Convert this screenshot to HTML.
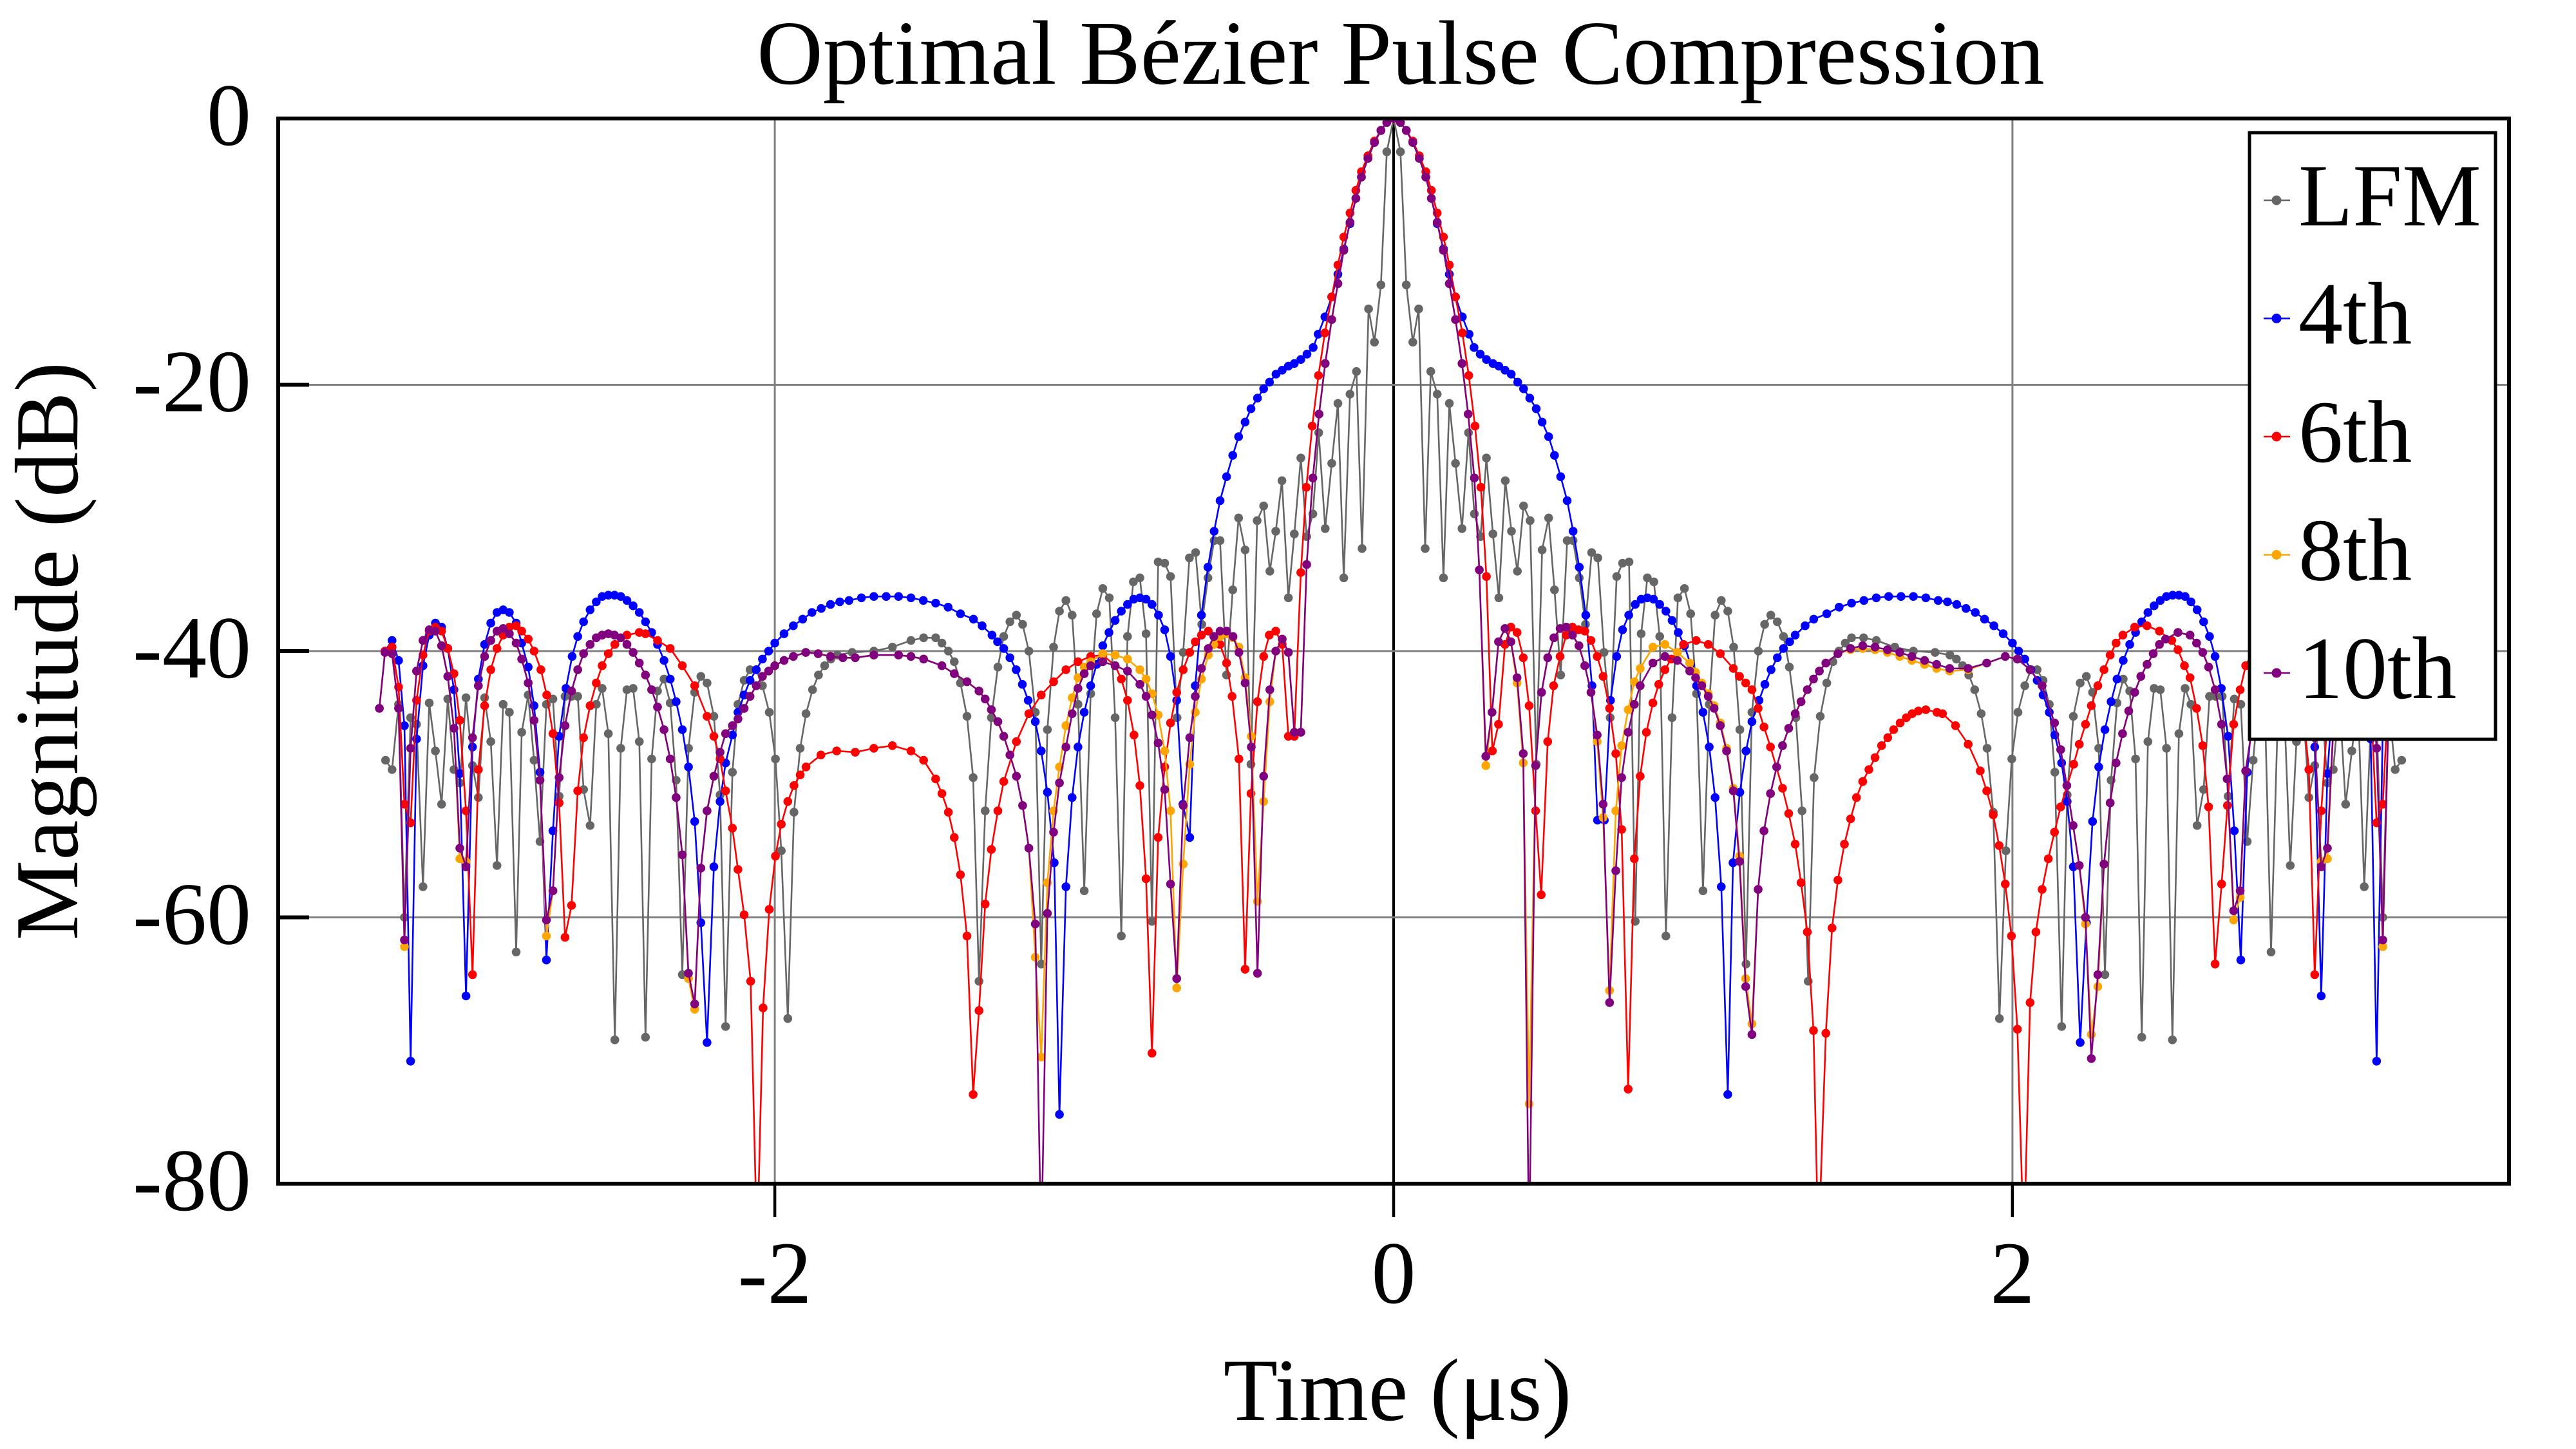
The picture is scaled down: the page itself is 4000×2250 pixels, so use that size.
<!DOCTYPE html>
<html><head><meta charset="utf-8"><title>Optimal Bézier Pulse Compression</title>
<style>html,body{margin:0;padding:0;background:#fff;}svg{display:block;}</style></head>
<body>
<svg id="chart" width="4000" height="2250" viewBox="0 0 4000 2250" xmlns="http://www.w3.org/2000/svg" font-family="'Liberation Serif', 'DejaVu Serif', serif">
<rect x="0" y="0" width="4000" height="2250" fill="#fff"/>
<defs><clipPath id="plotclip"><rect x="432" y="184" width="3464" height="1654"/></clipPath></defs>
<g id="grid"></g>
<g id="series" clip-path="url(#plotclip)"></g>
<g id="axes"></g>
<text x="2175" y="130" font-size="142" text-anchor="middle">Optimal Bézier Pulse Compression</text>
<text x="2170" y="2205" font-size="138" text-anchor="middle">Time (μs)</text>
<text transform="translate(120,1011) rotate(-90)" font-size="140" text-anchor="middle">Magnitude (dB)</text>
<g id="legend"></g>
</svg>
<script>
const xTicks = [-2, 0, 2];
const xTickLabels = ["-2", "0", "2"];
const yTicks = [0, -20, -40, -60, -80];
const yTickLabels = ["0", "-20", "-40", "-60", "-80"];
const seriesNames = ["LFM", "4th", "6th", "8th", "10th"];

const lfmTime = [-3.258,-3.237,-3.216,-3.197,-3.177,-3.158,-3.137,-3.117,-3.097,-3.077,-3.057,-3.037,-3.018,-2.998,-2.977,-2.958,-2.938,-2.918,-2.898,-2.878,-2.858,-2.836,-2.818,-2.797,-2.778,-2.759,-2.738,-2.717,-2.697,-2.678,-2.657,-2.637,-2.618,-2.597,-2.577,-2.558,-2.538,-2.517,-2.498,-2.478,-2.458,-2.438,-2.418,-2.398,-2.379,-2.358,-2.338,-2.319,-2.299,-2.279,-2.259,-2.239,-2.219,-2.197,-2.177,-2.159,-2.137,-2.119,-2.099,-2.08,-2.06,-2.04,-2.018,-1.998,-1.979,-1.958,-1.938,-1.918,-1.899,-1.878,-1.859,-1.839,-1.819,-1.798,-1.75,-1.68,-1.62,-1.56,-1.519,-1.48,-1.46,-1.439,-1.42,-1.4,-1.379,-1.359,-1.34,-1.32,-1.3,-1.279,-1.26,-1.24,-1.219,-1.199,-1.179,-1.158,-1.139,-1.119,-1.099,-1.08,-1.059,-1.039,-1.02,-1.0,-0.979,-0.96,-0.94,-0.919,-0.9,-0.88,-0.86,-0.841,-0.82,-0.8,-0.781,-0.761,-0.74,-0.721,-0.7,-0.68,-0.66,-0.64,-0.62,-0.6,-0.58,-0.561,-0.54,-0.52,-0.501,-0.48,-0.461,-0.441,-0.42,-0.4,-0.381,-0.361,-0.34,-0.321,-0.3,-0.281,-0.261,-0.242,-0.221,-0.2,-0.18,-0.161,-0.141,-0.12,-0.102,-0.081,-0.062,-0.041,-0.022,0,
0.022,0.041,0.062,0.081,0.102,0.12,0.141,0.161,0.18,0.2,0.221,0.242,0.261,0.281,0.3,0.321,0.34,0.361,0.381,0.4,0.42,0.441,0.461,0.48,0.501,0.52,0.54,0.561,0.58,0.6,0.62,0.64,0.66,0.68,0.7,0.721,0.74,0.761,0.781,0.8,0.82,0.841,0.86,0.88,0.9,0.919,0.94,0.96,0.979,1.0,1.02,1.039,1.059,1.08,1.099,1.119,1.139,1.158,1.179,1.199,1.219,1.24,1.26,1.279,1.3,1.32,1.34,1.359,1.379,1.4,1.42,1.439,1.46,1.48,1.519,1.56,1.62,1.68,1.75,1.798,1.819,1.839,1.859,1.878,1.899,1.918,1.938,1.958,1.979,1.998,2.018,2.04,2.06,2.08,2.099,2.119,2.137,2.159,2.177,2.197,2.219,2.239,2.259,2.279,2.299,2.319,2.338,2.358,2.379,2.398,2.418,2.438,2.458,2.478,2.498,2.517,2.538,2.558,2.577,2.597,2.618,2.637,2.657,2.678,2.697,2.717,2.738,2.759,2.778,2.797,2.818,2.836,2.858,2.878,2.898,2.918,2.938,2.958,2.977,2.998,3.018,3.037,3.057,3.077,3.097,3.117,3.137,3.158,3.177,3.197,3.216,3.237,3.258];
const lfmDb = [-48.2,-48.9,-44.0,-60.0,-45.0,-45.5,-57.7,-43.9,-47.5,-51.5,-43.6,-48.9,-49.9,-43.5,-48.6,-51.0,-43.5,-46.8,-56.1,-44.0,-44.6,-62.6,-46.1,-43.3,-48.2,-54.3,-44.0,-43.6,-50.9,-43.4,-43.4,-43.4,-50.4,-53.1,-44.0,-42.8,-46.2,-69.2,-47.3,-42.9,-42.8,-46.8,-69.0,-48.1,-43.0,-42.1,-43.9,-49.7,-64.3,-47.3,-43.1,-41.9,-42.4,-44.9,-50.8,-68.2,-49.1,-44.0,-42.2,-41.4,-41.4,-42.6,-44.6,-48.1,-55.0,-67.6,-52.1,-47.3,-44.7,-42.9,-41.8,-41.1,-40.6,-40.3,-40.1,-40.0,-39.7,-39.2,-39.0,-39.0,-39.4,-40.0,-40.8,-42.4,-44.9,-49.5,-64.8,-52.0,-45.0,-41.2,-38.9,-37.8,-37.3,-38.0,-40.0,-44.6,-63.5,-45.9,-39.7,-37.0,-36.2,-37.3,-44.0,-58.0,-43.2,-37.2,-35.3,-36.0,-45.0,-61.4,-38.9,-34.8,-34.5,-38.7,-60.3,-33.3,-33.4,-34.4,-45.0,-40.1,-33.0,-32.6,-38.0,-34.5,-31.7,-31.7,-41.8,-35.4,-30.0,-32.4,-48.5,-30.2,-29.1,-34.0,-31.0,-27.2,-36.0,-31.2,-25.5,-31.4,-29.7,-23.6,-30.8,-25.9,-21.4,-34.5,-20.7,-19.0,-32.3,-14.3,-16.8,-12.5,-2.5,0,
-2.5,-12.5,-16.8,-14.3,-32.3,-19.0,-20.7,-34.5,-21.4,-25.9,-30.8,-23.6,-29.7,-31.4,-25.5,-31.2,-36.0,-27.2,-31.0,-34.0,-29.1,-30.2,-48.5,-32.4,-30.0,-35.4,-41.8,-31.7,-31.7,-34.5,-38.0,-32.6,-33.0,-40.1,-45.0,-34.4,-33.4,-33.3,-60.3,-38.7,-34.5,-34.8,-38.9,-61.4,-45.0,-36.0,-35.3,-37.2,-43.2,-58.0,-44.0,-37.3,-36.2,-37.0,-39.7,-45.9,-63.5,-44.6,-40.0,-38.0,-37.3,-37.8,-38.9,-41.2,-45.0,-52.0,-64.8,-49.5,-44.9,-42.4,-40.8,-40.0,-39.4,-39.0,-39.0,-39.2,-39.7,-40.0,-40.1,-40.3,-40.6,-41.1,-41.8,-42.9,-44.7,-47.3,-52.1,-67.6,-55.0,-48.1,-44.6,-42.6,-41.4,-41.4,-42.2,-44.0,-49.1,-68.2,-50.8,-44.9,-42.4,-41.9,-43.1,-47.3,-64.3,-49.7,-43.9,-42.1,-43.0,-48.1,-69.0,-46.8,-42.8,-42.9,-47.3,-69.2,-46.2,-42.8,-44.0,-53.1,-50.4,-43.4,-43.4,-43.4,-50.9,-43.6,-44.0,-54.3,-48.2,-43.3,-46.1,-62.6,-44.6,-44.0,-56.1,-46.8,-43.5,-51.0,-48.6,-43.5,-49.9,-48.9,-43.6,-51.5,-47.5,-43.9,-57.7,-45.5,-45.0,-60.0,-44.0,-48.9,-48.2];

const bez4Time = [-3.26,-3.237,-3.216,-3.197,-3.177,-3.158,-3.137,-3.117,-3.097,-3.077,-3.057,-3.037,-3.018,-2.998,-2.977,-2.958,-2.938,-2.918,-2.898,-2.878,-2.858,-2.836,-2.818,-2.797,-2.778,-2.759,-2.738,-2.717,-2.697,-2.675,-2.655,-2.637,-2.618,-2.597,-2.577,-2.558,-2.538,-2.518,-2.498,-2.478,-2.458,-2.438,-2.418,-2.398,-2.379,-2.358,-2.338,-2.319,-2.299,-2.279,-2.259,-2.239,-2.219,-2.197,-2.177,-2.159,-2.137,-2.119,-2.099,-2.08,-2.06,-2.04,-2.02,-2.0,-1.97,-1.94,-1.91,-1.88,-1.85,-1.82,-1.79,-1.76,-1.72,-1.68,-1.64,-1.6,-1.56,-1.52,-1.48,-1.44,-1.4,-1.358,-1.33,-1.298,-1.28,-1.26,-1.24,-1.22,-1.2,-1.181,-1.158,-1.139,-1.119,-1.097,-1.08,-1.059,-1.039,-1.02,-1.0,-0.979,-0.96,-0.94,-0.92,-0.9,-0.88,-0.86,-0.84,-0.82,-0.8,-0.781,-0.76,-0.74,-0.721,-0.701,-0.681,-0.659,-0.641,-0.621,-0.6,-0.58,-0.561,-0.54,-0.52,-0.501,-0.48,-0.461,-0.44,-0.42,-0.401,-0.38,-0.36,-0.34,-0.321,-0.3,-0.28,-0.26,-0.244,-0.222,-0.2,-0.18,-0.161,-0.141,-0.122,-0.104,-0.083,-0.062,-0.041,-0.022,0,
0.022,0.041,0.062,0.083,0.104,0.122,0.141,0.161,0.18,0.2,0.222,0.244,0.26,0.28,0.3,0.321,0.34,0.36,0.38,0.401,0.42,0.44,0.461,0.48,0.501,0.52,0.54,0.561,0.58,0.6,0.621,0.641,0.659,0.681,0.701,0.721,0.74,0.76,0.781,0.8,0.82,0.84,0.86,0.88,0.9,0.92,0.94,0.96,0.979,1.0,1.02,1.039,1.059,1.08,1.097,1.119,1.139,1.158,1.181,1.2,1.22,1.24,1.26,1.28,1.298,1.33,1.358,1.4,1.44,1.48,1.52,1.56,1.6,1.64,1.68,1.72,1.76,1.79,1.82,1.85,1.88,1.91,1.94,1.97,2.0,2.02,2.04,2.06,2.08,2.099,2.119,2.137,2.159,2.177,2.197,2.219,2.239,2.259,2.279,2.299,2.319,2.338,2.358,2.379,2.398,2.418,2.438,2.458,2.478,2.498,2.518,2.538,2.558,2.577,2.597,2.618,2.637,2.655,2.675,2.697,2.717,2.738,2.759,2.778,2.797,2.818,2.836,2.858,2.878,2.898,2.918,2.938,2.958,2.977,2.998,3.018,3.037,3.057,3.077,3.097,3.117,3.137,3.158,3.177,3.197,3.216,3.237,3.26];
const bez4Db = [-40,-39.2,-40.7,-45.6,-70.8,-46.6,-41.1,-38.8,-37.9,-38.2,-39.8,-42.9,-49.2,-65.9,-47.2,-42.1,-39.5,-37.9,-37.1,-36.9,-37.1,-37.9,-39.4,-41.2,-44.1,-49.1,-63.2,-53.5,-46.4,-42.8,-40.4,-38.9,-37.8,-36.9,-36.3,-35.9,-35.8,-35.8,-35.9,-36.2,-36.6,-37.1,-37.8,-38.6,-39.5,-40.7,-42.1,-43.8,-45.9,-48.7,-52.8,-60.4,-69.4,-56.2,-51.3,-48.4,-46.3,-44.6,-43.3,-42.2,-41.4,-40.6,-40.0,-39.4,-38.7,-38.1,-37.6,-37.1,-36.8,-36.5,-36.3,-36.2,-36.0,-35.9,-35.9,-35.9,-36.0,-36.2,-36.4,-36.7,-37.2,-37.6,-38.1,-38.8,-39.3,-39.8,-40.5,-41.4,-42.5,-43.7,-45.3,-47.5,-50.6,-55.9,-74.8,-57.7,-51.0,-47.2,-44.6,-42.6,-41.0,-39.6,-38.6,-37.7,-37.0,-36.5,-36.1,-36.0,-36.1,-36.5,-37.3,-38.4,-40.4,-43.7,-51.5,-54.0,-42.6,-37.3,-33.7,-31.0,-28.7,-26.9,-25.3,-23.9,-22.8,-21.8,-21.0,-20.3,-19.8,-19.2,-18.9,-18.6,-18.4,-18.1,-17.7,-17.2,-16.2,-14.9,-13.4,-11.7,-9.8,-7.9,-6.0,-4.4,-3.0,-1.8,-0.9,-0.3,0,
-0.3,-0.9,-1.8,-3.0,-4.4,-6.0,-7.9,-9.8,-11.7,-13.4,-14.9,-16.2,-17.2,-17.7,-18.1,-18.4,-18.6,-18.9,-19.2,-19.8,-20.3,-21.0,-21.8,-22.8,-23.9,-25.3,-26.9,-28.7,-31.0,-33.7,-37.3,-42.6,-52.7,-52.7,-43.7,-40.4,-38.4,-37.3,-36.5,-36.1,-36.0,-36.1,-36.5,-37.0,-37.7,-38.6,-39.6,-41.0,-42.6,-44.6,-47.2,-51.0,-57.7,-73.3,-55.9,-50.6,-47.5,-45.3,-43.7,-42.5,-41.4,-40.5,-39.8,-39.3,-38.8,-38.1,-37.6,-37.2,-36.7,-36.4,-36.2,-36.0,-35.9,-35.9,-35.9,-36.0,-36.2,-36.3,-36.5,-36.8,-37.1,-37.6,-38.1,-38.7,-39.4,-40.0,-40.6,-41.4,-42.2,-43.3,-44.6,-46.3,-48.4,-51.3,-56.2,-69.4,-60.4,-52.8,-48.7,-45.9,-43.8,-42.1,-40.7,-39.5,-38.6,-37.8,-37.1,-36.6,-36.2,-35.9,-35.8,-35.8,-35.9,-36.3,-36.9,-37.8,-38.9,-40.4,-42.8,-46.4,-53.5,-63.2,-49.1,-44.1,-41.2,-39.4,-37.9,-37.1,-36.9,-37.1,-37.9,-39.5,-42.1,-47.2,-65.9,-49.2,-42.9,-39.8,-38.2,-37.9,-38.8,-41.1,-46.6,-70.8,-45.6,-40.7,-39.2,-40];

const bez6Time = [-3.26,-3.237,-3.216,-3.197,-3.177,-3.158,-3.137,-3.117,-3.097,-3.077,-3.057,-3.037,-3.018,-2.998,-2.977,-2.958,-2.938,-2.918,-2.898,-2.878,-2.858,-2.836,-2.818,-2.797,-2.778,-2.756,-2.737,-2.717,-2.697,-2.678,-2.657,-2.637,-2.618,-2.597,-2.577,-2.558,-2.538,-2.517,-2.478,-2.438,-2.418,-2.379,-2.338,-2.299,-2.259,-2.219,-2.197,-2.177,-2.159,-2.137,-2.119,-2.099,-2.078,-2.057,-2.038,-2.018,-1.998,-1.979,-1.958,-1.938,-1.918,-1.899,-1.851,-1.8,-1.74,-1.68,-1.62,-1.56,-1.519,-1.48,-1.46,-1.439,-1.42,-1.4,-1.379,-1.359,-1.34,-1.32,-1.3,-1.279,-1.26,-1.219,-1.179,-1.139,-1.099,-1.059,-1.02,-0.979,-0.94,-0.9,-0.88,-0.86,-0.839,-0.82,-0.8,-0.781,-0.761,-0.74,-0.721,-0.701,-0.68,-0.659,-0.641,-0.621,-0.599,-0.581,-0.561,-0.54,-0.522,-0.5,-0.48,-0.461,-0.44,-0.42,-0.402,-0.381,-0.36,-0.34,-0.321,-0.3,-0.282,-0.263,-0.243,-0.222,-0.2,-0.18,-0.161,-0.141,-0.122,-0.104,-0.083,-0.062,-0.041,-0.022,0,
0.022,0.041,0.062,0.083,0.104,0.122,0.141,0.161,0.18,0.2,0.222,0.243,0.263,0.282,0.3,0.319,0.339,0.36,0.379,0.399,0.419,0.438,0.459,0.477,0.498,0.517,0.538,0.558,0.578,0.598,0.618,0.638,0.658,0.677,0.698,0.718,0.737,0.758,0.778,0.797,0.817,0.838,0.857,0.877,0.897,0.937,0.978,1.017,1.056,1.098,1.118,1.138,1.158,1.178,1.197,1.218,1.257,1.277,1.298,1.317,1.337,1.357,1.373,1.397,1.417,1.436,1.457,1.477,1.496,1.516,1.536,1.556,1.577,1.597,1.616,1.637,1.657,1.676,1.696,1.72,1.756,1.774,1.816,1.857,1.896,1.917,1.938,1.957,1.977,1.997,2.016,2.037,2.057,2.076,2.096,2.116,2.136,2.156,2.198,2.216,2.236,2.255,2.276,2.296,2.316,2.335,2.357,2.395,2.435,2.475,2.515,2.535,2.556,2.574,2.595,2.615,2.634,2.655,2.676,2.695,2.715,2.736,2.754,2.778,2.797,2.818,2.836,2.858,2.878,2.898,2.918,2.938,2.958,2.977,2.998,3.018,3.037,3.057,3.077,3.097,3.117,3.137,3.158,3.177,3.197,3.216,3.237,3.26];
const bez6Db = [-40.0,-39.7,-42.7,-51.5,-52.9,-43.7,-40.3,-38.5,-38.2,-38.5,-39.8,-41.7,-45.2,-52.0,-64.3,-48.9,-44.1,-41.4,-39.8,-38.8,-38.2,-38.1,-38.5,-39.1,-40.0,-41.4,-43.3,-46.2,-51.4,-61.5,-59.1,-50.5,-46.5,-44.1,-42.4,-41.1,-40.2,-39.5,-38.8,-38.6,-38.7,-39.2,-39.8,-41.1,-42.6,-44.9,-46.4,-48.1,-50.5,-53.3,-56.4,-59.8,-64.8,-85,-66.8,-59.4,-55.4,-53.0,-51.3,-50.1,-49.3,-48.7,-47.8,-47.5,-47.6,-47.3,-47.1,-47.5,-48.2,-49.6,-50.7,-52.1,-54.0,-56.8,-61.4,-73.3,-67.0,-59.0,-54.9,-52.0,-49.8,-46.8,-44.7,-43.3,-42.3,-41.4,-40.8,-40.4,-40.3,-41.1,-42.1,-43.7,-46.3,-50.1,-57.1,-70.2,-54.0,-48.7,-45.4,-43.1,-41.4,-40.1,-39.3,-38.8,-38.5,-38.9,-39.5,-40.9,-43.4,-48.1,-63.9,-50.7,-43.8,-40.4,-38.8,-38.5,-39.5,-46.4,-46.4,-34.1,-27.7,-23.1,-19.3,-16.1,-13.4,-11.0,-8.9,-7.1,-5.4,-4.0,-2.8,-1.7,-0.9,-0.3,0,
-0.3,-0.9,-1.7,-2.8,-4.0,-5.4,-7.1,-8.9,-11.0,-13.4,-16.1,-19.3,-23.1,-27.7,-34.4,-47.5,-45.5,-39.5,-38.2,-38.6,-40.5,-44.1,-52.0,-58.3,-46.8,-42.6,-40.4,-38.8,-38.2,-38.4,-38.5,-39.2,-40.4,-41.9,-44.3,-47.7,-53.4,-72.9,-55.6,-49.4,-46.1,-43.9,-42.5,-41.4,-40.6,-39.5,-39.2,-39.5,-40.2,-41.3,-41.9,-42.4,-42.9,-44.3,-45.7,-47.2,-50.3,-52.2,-54.5,-57.4,-61.1,-68.5,-85,-68.7,-60.8,-57.2,-54.5,-52.6,-51.0,-49.8,-48.9,-48.0,-47.1,-46.5,-45.9,-45.4,-45.0,-44.7,-44.5,-44.4,-44.6,-44.7,-45.6,-47.0,-49.0,-50.5,-52.3,-54.6,-57.5,-61.4,-68.4,-85,-66.4,-61.1,-57.9,-55.6,-53.6,-51.7,-48.5,-47.0,-45.5,-44.1,-42.6,-41.4,-40.3,-39.4,-38.8,-38.2,-38.1,-38.5,-39.2,-39.9,-41.1,-42.0,-44.3,-47.1,-51.7,-63.5,-57.5,-51.6,-45.5,-42.9,-41.1,-40.0,-39.1,-38.5,-38.1,-38.2,-38.8,-39.8,-41.4,-44.1,-48.9,-64.3,-52.0,-45.2,-41.7,-39.8,-38.5,-38.2,-38.5,-40.3,-43.7,-52.9,-51.5,-42.7,-39.7,-40.0];

const bez10Time = [-3.278,-3.26,-3.237,-3.216,-3.197,-3.177,-3.158,-3.137,-3.117,-3.097,-3.077,-3.057,-3.037,-3.018,-2.998,-2.977,-2.958,-2.938,-2.918,-2.898,-2.878,-2.858,-2.836,-2.818,-2.797,-2.778,-2.759,-2.738,-2.717,-2.697,-2.678,-2.657,-2.637,-2.618,-2.597,-2.577,-2.558,-2.538,-2.518,-2.498,-2.478,-2.458,-2.438,-2.418,-2.398,-2.379,-2.358,-2.338,-2.319,-2.299,-2.279,-2.259,-2.239,-2.219,-2.197,-2.177,-2.159,-2.137,-2.119,-2.099,-2.08,-2.06,-2.04,-2.02,-2.0,-1.97,-1.94,-1.9,-1.86,-1.82,-1.78,-1.74,-1.68,-1.6,-1.56,-1.519,-1.46,-1.42,-1.379,-1.34,-1.32,-1.3,-1.279,-1.26,-1.24,-1.219,-1.199,-1.179,-1.158,-1.139,-1.119,-1.099,-1.08,-1.059,-1.039,-1.02,-1.0,-0.979,-0.94,-0.9,-0.86,-0.82,-0.8,-0.781,-0.761,-0.74,-0.721,-0.701,-0.68,-0.659,-0.641,-0.621,-0.599,-0.581,-0.561,-0.54,-0.519,-0.5,-0.48,-0.46,-0.44,-0.42,-0.4,-0.381,-0.36,-0.34,-0.321,-0.3,-0.281,-0.261,-0.241,-0.221,-0.2,-0.18,-0.161,-0.141,-0.122,-0.104,-0.083,-0.062,-0.041,-0.022,0,
0.022,0.041,0.062,0.083,0.104,0.122,0.141,0.161,0.18,0.2,0.221,0.241,0.261,0.277,0.298,0.318,0.339,0.36,0.379,0.399,0.419,0.438,0.459,0.478,0.498,0.518,0.538,0.558,0.578,0.599,0.618,0.638,0.658,0.677,0.698,0.718,0.737,0.758,0.778,0.797,0.838,0.877,0.917,0.957,0.976,0.996,1.017,1.036,1.056,1.076,1.098,1.118,1.138,1.158,1.178,1.197,1.218,1.238,1.257,1.277,1.298,1.317,1.337,1.357,1.376,1.397,1.436,1.477,1.516,1.556,1.596,1.636,1.675,1.716,1.755,1.797,1.857,1.917,1.977,2.016,2.057,2.096,2.136,2.156,2.176,2.196,2.216,2.236,2.255,2.276,2.296,2.316,2.335,2.356,2.376,2.395,2.415,2.435,2.455,2.475,2.495,2.535,2.574,2.595,2.615,2.634,2.655,2.676,2.694,2.715,2.736,2.754,2.778,2.797,2.818,2.836,2.858,2.878,2.898,2.918,2.938,2.958,2.977,2.998,3.018,3.037,3.057,3.077,3.097,3.117,3.137,3.158,3.177,3.197,3.216,3.237,3.26,3.278];
const bez10Db = [-44.3,-40.1,-40.2,-44.3,-61.7,-47.3,-41.5,-39.2,-38.4,-38.5,-39.6,-41.9,-45.8,-54.8,-56.2,-46.5,-42.6,-40.4,-39.2,-38.5,-38.3,-38.7,-39.4,-40.6,-42.4,-45.2,-49.7,-60.2,-58.0,-49.5,-45.6,-43.0,-41.4,-40.2,-39.5,-39.0,-38.8,-38.7,-38.8,-39.0,-39.5,-40.1,-40.9,-41.8,-42.9,-44.2,-45.9,-48.1,-51.0,-55.3,-64.2,-66.5,-56.3,-52.0,-49.4,-47.6,-46.2,-45.6,-45.1,-44.3,-43.4,-42.6,-41.9,-41.5,-41.1,-40.7,-40.4,-40.1,-40.2,-40.4,-40.5,-40.5,-40.3,-40.3,-40.4,-40.6,-41.1,-41.7,-42.3,-43.0,-43.6,-44.4,-45.3,-46.4,-47.8,-49.4,-51.6,-54.8,-60.5,-85,-59.7,-53.6,-49.9,-47.2,-44.7,-42.8,-41.7,-41.1,-40.8,-41.1,-41.5,-42.5,-43.4,-44.8,-46.9,-50.4,-57.5,-64.6,-51.6,-46.5,-43.4,-41.3,-39.8,-38.9,-38.5,-38.5,-38.9,-40.1,-42.4,-47.2,-64.2,-49.4,-42.9,-40.0,-39.1,-40.1,-46.1,-46.1,-33.5,-27.0,-22.2,-18.4,-15.1,-12.4,-9.9,-7.8,-6.0,-4.4,-3.0,-1.8,-0.9,-0.3,0,
-0.3,-0.9,-1.8,-3.0,-4.4,-6.0,-7.8,-9.9,-12.4,-15.1,-18.4,-22.2,-27.0,-33.9,-47.9,-44.6,-39.3,-38.3,-39.3,-42.0,-47.7,-85,-48.6,-43.1,-40.5,-39.0,-38.3,-38.2,-38.8,-39.6,-41.1,-43.1,-46.3,-51.5,-66.4,-56.5,-49.5,-46.1,-44.0,-42.6,-40.9,-40.4,-40.7,-41.5,-42.0,-42.6,-43.4,-44.3,-45.6,-47.5,-50.5,-55.8,-65.2,-68.8,-57.9,-53.5,-50.7,-48.7,-47.1,-45.8,-44.7,-43.8,-42.9,-42.1,-41.5,-40.9,-40.2,-39.8,-39.6,-39.7,-39.9,-40.1,-40.4,-40.7,-41.0,-41.3,-41.3,-40.9,-40.4,-40.6,-41.4,-42.6,-45.4,-47.4,-50.1,-53.1,-56.1,-60.0,-70.6,-64.3,-56.0,-51.4,-48.4,-46.2,-44.5,-43.1,-41.9,-41.0,-40.2,-39.5,-39.1,-38.6,-38.8,-39.4,-40.1,-41.2,-42.9,-45.5,-49.6,-59.5,-58.0,-49.0,-45.2,-42.4,-40.6,-39.4,-38.7,-38.3,-38.5,-39.2,-40.4,-42.6,-46.5,-56.2,-54.8,-45.8,-41.9,-39.6,-38.5,-38.4,-39.2,-41.5,-47.3,-61.7,-44.3,-40.2,-40.1,-44.3];

const bez8Time = bez10Time.slice();
const bez8Db = [-44.3,-40.1,-40.2,-44.3,-62.2,-47.3,-41.5,-39.2,-38.4,-38.5,-39.6,-41.9,-45.8,-55.6,-55.8,-46.5,-42.6,-40.4,-39.2,-38.5,-38.3,-38.7,-39.4,-40.6,-42.4,-45.2,-49.7,-61.4,-58.0,-49.5,-45.6,-43.0,-41.4,-40.2,-39.5,-39.0,-38.8,-38.7,-38.8,-39.0,-39.5,-40.1,-40.9,-41.8,-42.9,-44.2,-45.9,-48.1,-51.0,-55.3,-64.6,-66.9,-56.3,-52.0,-49.4,-47.6,-46.2,-45.6,-45.1,-44.3,-43.4,-42.6,-41.9,-41.5,-41.1,-40.7,-40.4,-40.1,-40.2,-40.4,-40.5,-40.5,-40.3,-40.3,-40.4,-40.6,-41.1,-41.7,-42.3,-43.0,-43.6,-44.4,-45.3,-46.4,-47.8,-49.4,-51.6,-54.8,-63.0,-70.5,-57.4,-52.0,-48.7,-45.6,-43.5,-42.0,-41.2,-40.8,-40.2,-40.3,-40.6,-41.4,-42.1,-43.2,-44.8,-47.5,-52.0,-65.3,-56.0,-48.5,-44.6,-42.1,-40.3,-39.5,-38.9,-38.7,-39.0,-39.7,-42.0,-46.4,-58.8,-51.3,-43.8,-40.0,-39.1,-40.1,-46.1,-46.1,-33.5,-27.0,-22.2,-18.4,-15.1,-12.4,-9.9,-7.8,-6.0,-4.4,-3.0,-1.8,-0.9,-0.3,0,
-0.3,-0.9,-1.8,-3.0,-4.4,-6.0,-7.8,-9.9,-12.4,-15.1,-18.4,-22.2,-27.0,-33.9,-48.6,-44.6,-39.3,-38.3,-39.3,-42.4,-48.4,-74.0,-48.6,-43.1,-40.5,-39.0,-38.3,-38.2,-38.8,-39.6,-41.1,-43.1,-46.8,-52.5,-65.5,-52.0,-47.1,-44.4,-42.3,-41.3,-39.7,-39.5,-40.1,-40.9,-41.6,-42.4,-43.2,-44.1,-45.4,-47.3,-50.3,-55.4,-64.6,-68.0,-57.9,-53.5,-50.7,-48.7,-47.1,-45.8,-44.7,-43.8,-42.9,-42.1,-41.5,-40.9,-40.2,-39.9,-39.8,-39.9,-40.1,-40.4,-40.7,-41.0,-41.3,-41.5,-41.4,-40.9,-40.4,-40.6,-41.4,-42.6,-45.4,-47.4,-50.1,-53.1,-56.1,-60.5,-68.8,-65.2,-56.0,-51.4,-48.4,-46.2,-44.5,-43.1,-41.9,-41.0,-40.2,-39.5,-39.1,-38.6,-38.8,-39.4,-40.1,-41.2,-42.9,-45.5,-49.6,-60.2,-58.5,-49.0,-45.2,-42.4,-40.6,-39.4,-38.7,-38.3,-38.5,-39.2,-40.4,-42.6,-46.5,-55.8,-55.6,-45.8,-41.9,-39.6,-38.5,-38.4,-39.2,-41.5,-47.3,-62.2,-44.3,-40.2,-40.1,-44.3];

const seriesColors = ["#666666", "#0000ff", "#ff0000", "#ffa500", "#800080"];

const NS = "http://www.w3.org/2000/svg";
const X0 = 432, X1 = 3896, Y0 = 184, Y1 = 1838;
const xMin = -3.605, xMax = 3.605, yMin = -80, yMax = 0;
function xScale(t) { return X0 + (t - xMin) / (xMax - xMin) * (X1 - X0); }
function yScale(v) { return Y1 - (v - yMin) / (yMax - yMin) * (Y1 - Y0); }
function mk(tag, attrs) { const e = document.createElementNS(NS, tag); for (const k in attrs) e.setAttribute(k, attrs[k]); return e; }

const grid = document.getElementById('grid');
const axes = document.getElementById('axes');
const seriesG = document.getElementById('series');
const legend = document.getElementById('legend');

xTicks.forEach((t, i) => {
  const x = xScale(t);
  const ln = mk('line', {x1: x, x2: x, y1: Y0, y2: Y1, stroke: t === 0 ? '#000' : '#808080', 'stroke-width': t === 0 ? 4 : 3});
  
  
  grid.appendChild(ln);
});
yTicks.forEach((v, i) => {
  if (v === 0 || v === -80) return;
  const y = yScale(v);
  const ln = mk('line', {x1: X0, x2: X1, y1: y, y2: y, stroke: '#808080', 'stroke-width': 3});
  
  
  grid.appendChild(ln);
});

const allSeries = [[lfmTime, lfmDb], [bez4Time, bez4Db], [bez6Time, bez6Db], [bez8Time, bez8Db], [bez10Time, bez10Db]];
allSeries.forEach((s, si) => {
  const [ts, vs] = s;
  const n = Math.min(ts.length, vs.length);
  const g = mk('g', {});
  
  
  let d = '';
  for (let i = 0; i < n; i++) d += (i ? 'L' : 'M') + xScale(ts[i]).toFixed(1) + ' ' + yScale(vs[i]).toFixed(1);
  const p = mk('path', {d: d, fill: 'none', stroke: seriesColors[si], 'stroke-width': 2.6, 'stroke-linejoin': 'round'});
  
  
  g.appendChild(p);
  for (let i = 0; i < n; i++) {
    const c = mk('circle', {cx: xScale(ts[i]).toFixed(1), cy: yScale(vs[i]).toFixed(1), r: 6.8, fill: seriesColors[si]});
    
    
    g.appendChild(c);
  }
  seriesG.appendChild(g);
});

const frame = mk('rect', {x: X0, y: Y0, width: X1 - X0, height: Y1 - Y0, fill: 'none', stroke: '#000', 'stroke-width': 6});


axes.appendChild(frame);

xTicks.forEach((t, i) => {
  const x = xScale(t);
  const tk = mk('line', {x1: x, x2: x, y1: Y1, y2: Y1 + 52, stroke: '#000', 'stroke-width': 4.5});
  
  
  axes.appendChild(tk);
  const tx = mk('text', {x: x, y: 2023, 'font-size': 138, 'text-anchor': 'middle'});
  tx.textContent = xTickLabels[i];
  
  
  axes.appendChild(tx);
});
yTicks.forEach((v, i) => {
  const y = yScale(v);
  const tk = mk('line', {x1: X0, x2: X0 + 48, y1: y, y2: y, stroke: '#000', 'stroke-width': 6});
  
  
  axes.appendChild(tk);
  const tx = mk('text', {x: 390, y: y + 41, 'font-size': 138, 'text-anchor': 'end'});
  tx.textContent = yTickLabels[i];
  
  
  axes.appendChild(tx);
});

const lbox = mk('rect', {x: 3493, y: 206, width: 382, height: 942, fill: '#fff', stroke: '#000', 'stroke-width': 5});


legend.appendChild(lbox);
seriesNames.forEach((name, i) => {
  const cy = 311 + i * 183.5;
  const eg = mk('g', {});
  
  
  const ln = mk('line', {x1: 3515, x2: 3556, y1: cy, y2: cy, stroke: seriesColors[i], 'stroke-width': 2.5});
  
  
  const c = mk('circle', {cx: 3535, cy: cy, r: 7.5, fill: seriesColors[i]});
  
  
  const tx = mk('text', {x: 3569, y: cy + 39, 'font-size': 138});
  tx.textContent = name;
  
  
  eg.appendChild(ln); eg.appendChild(c); eg.appendChild(tx);
  legend.appendChild(eg);
});
</script>
</body></html>
